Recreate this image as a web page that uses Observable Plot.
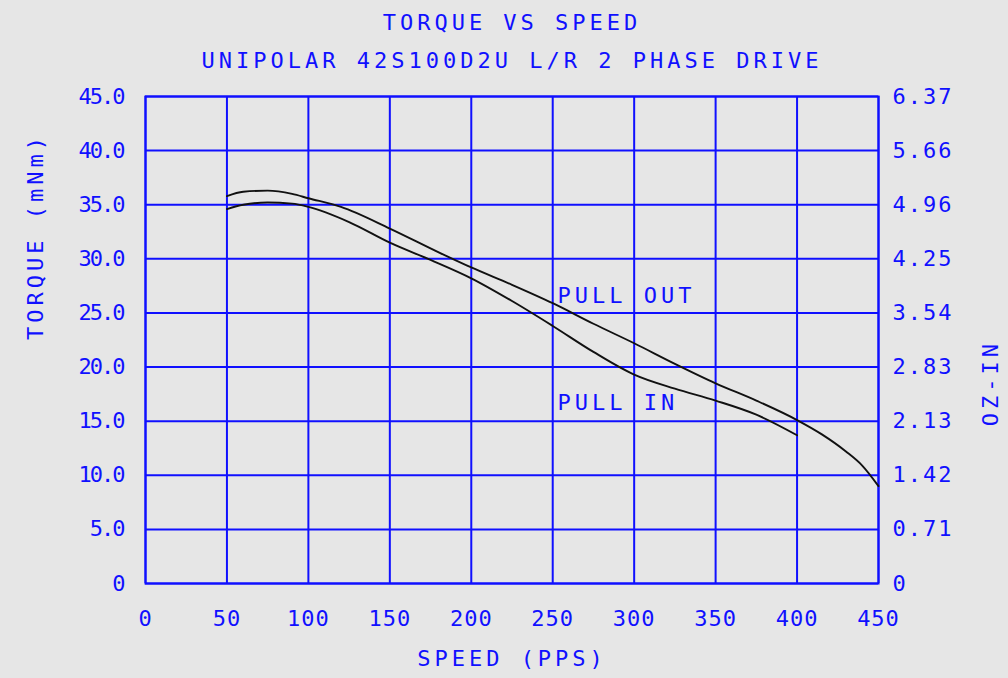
<!DOCTYPE html>
<html>
<head>
<meta charset="utf-8">
<script src="https://cdn.jsdelivr.net/npm/d3@7"></script>
<script src="https://cdn.jsdelivr.net/npm/@observablehq/plot@0.6"></script>
<style>
  html, body { margin: 0; padding: 0; background: #e6e6e6; }
  #chart svg { display: block; }
  #chart g[aria-label="text"] text { letter-spacing: 4px; }
  #chart g[aria-label="x-axis tick label"] text { letter-spacing: 1px; }
</style>
</head>
<body>
<div id="chart"></div>
<script>
// ---- data ----
const pullOutSpeed  = [50, 60, 75, 90, 100, 120, 150, 180, 200, 225, 250, 275, 300, 325, 350, 375, 400, 415, 430, 440, 450];
const pullOutTorque = [35.8, 36.2, 36.3, 36.0, 35.6, 34.8, 32.8, 30.6, 29.2, 27.6, 25.9, 24.0, 22.2, 20.3, 18.5, 16.9, 15.1, 13.8, 12.2, 10.9, 9.0];
const pullInSpeed   = [50, 60, 75, 90, 100, 125, 150, 175, 200, 225, 250, 275, 300, 325, 350, 375, 400];
const pullInTorque  = [34.6, 35.0, 35.2, 35.1, 34.8, 33.4, 31.5, 29.9, 28.2, 26.1, 23.8, 21.4, 19.3, 18.0, 16.9, 15.6, 13.7];

const xTicks = [0, 50, 100, 150, 200, 250, 300, 350, 400, 450];
const yTicks = [0, 5, 10, 15, 20, 25, 30, 35, 40, 45];
const yTickLabels  = ["0", "5.0", "10.0", "15.0", "20.0", "25.0", "30.0", "35.0", "40.0", "45.0"];
const ozTickLabels = ["0", "0.71", "1.42", "2.13", "2.83", "3.54", "4.25", "4.96", "5.66", "6.37"];

const curveNames   = ["PULL OUT", "PULL IN"];
const curveLabelX  = [253, 253];
const curveLabelY  = [26.6, 16.7];

const title    = "TORQUE VS SPEED";
const subtitle = "UNIPOLAR 42S100D2U L/R 2 PHASE DRIVE";
const xLabel   = "SPEED (PPS)";
const yLabel   = "TORQUE (mNm)";
const y2Label  = "OZ-IN";

// ---- build ----
const blue = "#1010ff";
const pullOut = pullOutSpeed.map((s, i) => ({speed: s, torque: pullOutTorque[i]}));
const pullIn  = pullInSpeed.map((s, i) => ({speed: s, torque: pullInTorque[i]}));
const labels  = curveNames.map((n, i) => ({name: n, x: curveLabelX[i], y: curveLabelY[i]}));

const chart = Plot.plot({
  width: 1008,
  height: 678,
  marginLeft: 145,
  marginRight: 130,
  marginTop: 96,
  marginBottom: 95,
  style: {background: "#e6e6e6", fontFamily: "'DejaVu Sans Mono', monospace", fontSize: "22px", color: blue},
  x: {domain: [0, 450]},
  y: {domain: [0, 45]},
  marks: [
    Plot.gridX(xTicks, {stroke: blue, strokeOpacity: 1, strokeWidth: 2}),
    Plot.gridY(yTicks, {stroke: blue, strokeOpacity: 1, strokeWidth: 2}),
    Plot.frame({stroke: blue, strokeWidth: 2}),
    Plot.axisX(xTicks, {tickSize: 0, tickPadding: 27, label: null, fill: blue, fontSize: 22}),
    Plot.axisY(yTicks, {anchor: "left", tickSize: 0, tickPadding: 22, label: null, fill: blue, fontSize: 22,
      tickFormat: d => yTickLabels[yTicks.indexOf(d)]}),
    Plot.axisY(yTicks, {anchor: "right", tickSize: 0, tickPadding: 14, label: null, fill: blue, fontSize: 22,
      tickFormat: d => ozTickLabels[yTicks.indexOf(d)]}),
    Plot.line(pullOut, {x: "speed", y: "torque", stroke: "#111", strokeWidth: 1.9, curve: "monotone-x"}),
    Plot.line(pullIn,  {x: "speed", y: "torque", stroke: "#111", strokeWidth: 1.9, curve: "monotone-x"}),
    Plot.text(labels, {x: "x", y: "y", text: "name", textAnchor: "start", fill: blue, fontSize: 22}),
    Plot.text([title],    {frameAnchor: "top", dy: -82, fill: blue, fontSize: 22}),
    Plot.text([subtitle], {frameAnchor: "top", dy: -44, fill: blue, fontSize: 22}),
    Plot.text([xLabel],   {frameAnchor: "bottom", dy: 82, fill: blue, fontSize: 22}),
    Plot.text([yLabel],   {frameAnchor: "left", dx: -110, rotate: -90, fill: blue, fontSize: 22}),
    Plot.text([y2Label],  {frameAnchor: "right", dx: 112, rotate: -90, fill: blue, fontSize: 22})
  ]
});
document.getElementById("chart").appendChild(chart);
// tighten the left axis labels, widen the right ones slightly
const yLabelGroups = chart.querySelectorAll('g[aria-label="y-axis tick label"]');
if (yLabelGroups[0]) yLabelGroups[0].style.letterSpacing = "-2px";
if (yLabelGroups[1]) yLabelGroups[1].style.letterSpacing = "2px";
</script>
</body>
</html>
